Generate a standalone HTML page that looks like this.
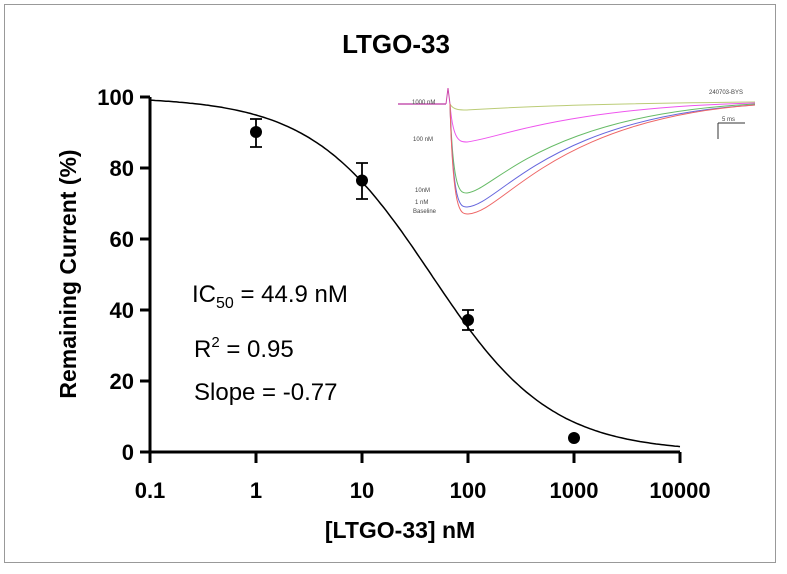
<!DOCTYPE html><html><head><style>body{margin:0;background:#fff}svg{display:block}text{font-family:"Liberation Sans",Arial,sans-serif}</style></head><body>
<svg id="s" width="787" height="574" viewBox="0 0 787 574">
<rect x="4.5" y="4.5" width="771" height="558" fill="#fff" stroke="#999" stroke-width="1"/>
<text x="396" y="53" font-size="26" font-weight="bold" text-anchor="middle">LTGO-33</text>
<g stroke="#000" stroke-width="3" fill="none">
<path d="M150 97 V452 H680"/>
<path d="M140 97H150M140 168H150M140 239H150M140 310H150M140 381H150M140 452H150"/>
<path d="M150 452V463M256 452V463M362 452V463M468 452V463M574 452V463M680 452V463"/>
</g>
<g font-size="22" font-weight="bold" text-anchor="end">
<text x="134" y="105">100</text><text x="134" y="176">80</text><text x="134" y="247">60</text><text x="134" y="318">40</text><text x="134" y="389">20</text><text x="134" y="460">0</text>
</g>
<g font-size="22" font-weight="bold" text-anchor="middle">
<text x="150" y="498">0.1</text><text x="256" y="498">1</text><text x="362" y="498">10</text><text x="468" y="498">100</text><text x="574" y="498">1000</text><text x="680" y="498">10000</text>
</g>
<text x="400" y="538" font-size="23" font-weight="bold" text-anchor="middle">[LTGO-33] nM</text>
<text transform="translate(76,274) rotate(-90)" font-size="23" font-weight="bold" text-anchor="middle">Remaining Current  (%)</text>
<path id="c" fill="none" stroke="#000" stroke-width="1.5"/>
<g stroke="#000" stroke-width="1.8">
<path d="M256 119V147M250 119H262M250 147H262"/>
<path d="M362 163V199M356 163H368M356 199H368"/>
<path d="M468 310V330M462 310H474M462 330H474"/>
</g>
<g fill="#000"><circle cx="256" cy="132" r="6"/><circle cx="362" cy="180.5" r="6"/><circle cx="468" cy="320" r="6"/><circle cx="574" cy="438" r="6"/></g>
<g font-size="24">
<text x="192" y="302">IC<tspan font-size="16" dy="6">50</tspan><tspan dy="-6"> = 44.9 nM</tspan></text>
<text x="194" y="357">R<tspan font-size="15" dy="-10">2</tspan><tspan dy="10"> = 0.95</tspan></text>
<text x="194" y="400">Slope = -0.77</text>
</g>
<g fill="none" stroke-width="1">
<path d="M398 104H446" stroke="#a08"/>
<path d="M446 104 L448 88 L450 104" stroke="#c4a"/>
<path d="M450 104 C453 110 460 110 467 110 C500 108 560 104 755 102" stroke="#bc7"/>
<path d="M450 104 C453 142 460 142 467 142 C500 138 560 108 755 103" stroke="#e5e"/>
<path d="M450 104 C453 193 460 193 467 193 C495 190 540 115 755 104" stroke="#6b6"/>
<path d="M450 104 C453 207 460 207 467 207 C500 205 545 118 755 105" stroke="#66d"/>
<path d="M450 104 C453 214 460 214 468 214 C505 212 550 120 755 105" stroke="#e66"/>
<path d="M718 123H745M718 123V139" stroke="#333"/>
</g>
<g font-size="6" fill="#444"><text x="412" y="104">1000 nM</text><text x="413" y="141">100 nM</text><text x="415" y="192">10nM</text><text x="415" y="204">1 nM</text><text x="413" y="213">Baseline</text><text x="709" y="94">240703-BYS</text><text x="722" y="121">5 ms</text></g>
</svg>
<script>
var d="";for(var i=0;i<=200;i++){var lx=-1+5*i/200,x=Math.pow(10,lx),y=100/(1+Math.pow(x/44.9,0.77));d+=(i?"L":"M")+(150+106*(lx+1)).toFixed(1)+" "+(452-3.55*y).toFixed(1);}
document.getElementById("c").setAttribute("d",d);
</script>
</body></html>
